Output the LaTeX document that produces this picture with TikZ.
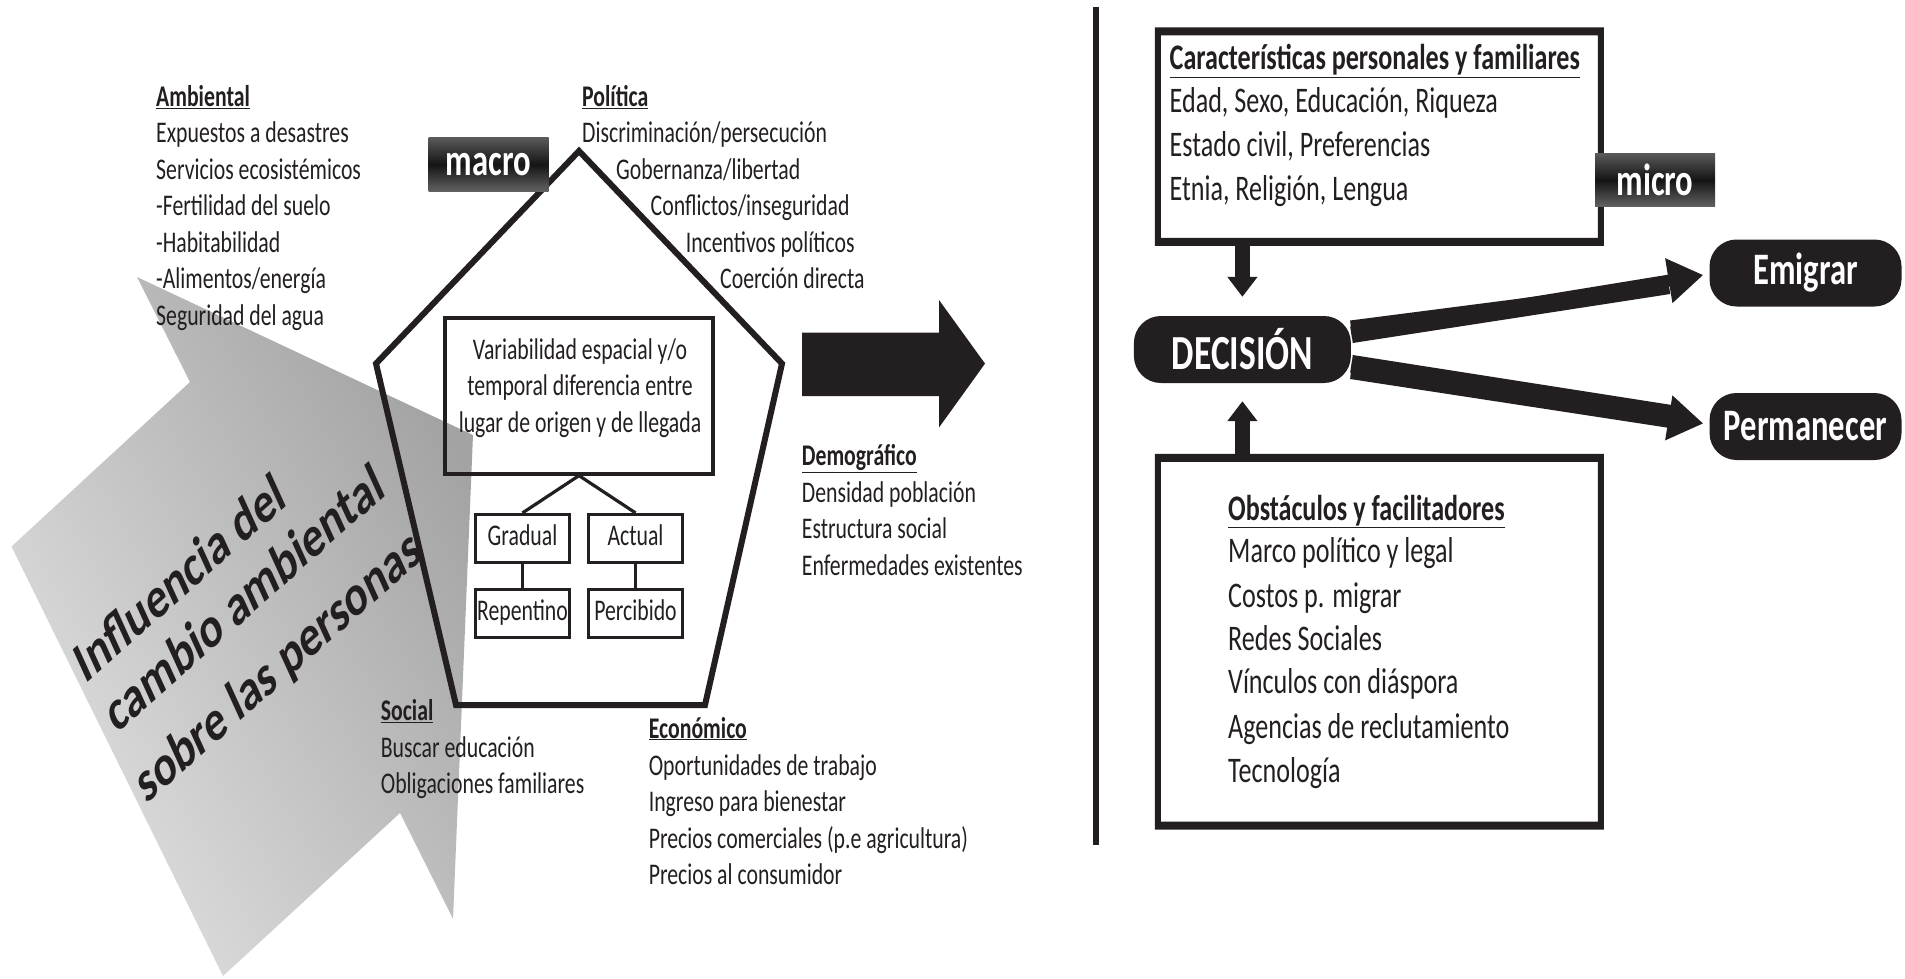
\documentclass[tikz,border=0pt]{standalone}
\usepackage{fontspec}
\setmainfont{Carlito}[FakeStretch=0.725]
\newfontfamily\plainfont{Carlito}
\usetikzlibrary{arrows.meta,calc}
\definecolor{ink}{HTML}{231F20}
\tikzset{
  txt/.style={anchor=base west,yshift=-10pt,inner sep=0pt,font=\fontsize{30}{36.4}\selectfont,text=ink,align=left},
  txtb/.style={txt,yshift=-2pt,font=\fontsize{36}{43.6}\selectfont},
  thinbox/.style={draw=ink,line width=3.2pt,inner sep=0pt},
  smallbox/.style={thinbox,minimum width=94pt,minimum height=48pt,text height=20pt,text depth=7pt,font=\fontsize{30}{30}\selectfont,text=ink},
  heavybox/.style={inner sep=0pt,minimum width=448.7pt},
  pill/.style={rectangle,rounded corners=27pt,fill=ink,inner sep=0pt,text=white,font=\fontsize{45}{47}\selectfont\bfseries},
  tag/.style={inner sep=0pt,minimum width=120pt,minimum height=53pt,top color=black!65,bottom color=black!62,middle color=black!92,text=white,font=\fontsize{45}{47}\selectfont\bfseries},
  bigconn/.style={draw=ink,line width=12pt,-{Triangle[length=35pt,width=43pt]}},
  smallconn/.style={draw=ink,line width=15pt,-{Triangle[length=20pt,width=29pt]}},
  slanted/.style={transform shape,cm={.613,.545,-.386,.846,(0,0)},inner sep=0pt,font=\plainfont\fontsize{59}{64}\selectfont\bfseries,text=ink},
}
\begin{document}
\begin{tikzpicture}[x=1pt,y=-1pt]
\useasboundingbox (0,0) rectangle (1905,979);
% gray arrow
\shade[left color=black!36,right color=black!12,shading angle=-60]
  (137,277) -- (473,435) -- (453,919) -- (400,813) -- (223,976) -- (11.5,546.5) -- (190,382) -- cycle;
% text over arrow
\node[slanted] (infl1) at (179,577) {Influencia del};
\node[slanted] (infl2) at (244,597) {cambio ambiental};
\node[slanted] (infl3) at (279,668) {sobre las personas};
% pentagon
\coordinate (pt) at (579,151);
\coordinate (pr) at (782,363.6);
\coordinate (pbr) at (705,705);
\coordinate (pbl) at (456,705);
\coordinate (pl) at (376,363.6);
\draw[ink,line width=6pt,line join=miter] (pt)--(pr)--(pbr)--(pbl)--(pl)--cycle;
% inner boxes
\node[thinbox,minimum width=268pt,minimum height=156pt] (var) at (579,396) {};
\node[inner sep=0pt,align=center,font=\fontsize{30}{36.4}\selectfont,text=ink] (vartxt) at (580,388) {Variabilidad espacial y/o\\temporal diferencia entre\\lugar de origen y de llegada};
\node[smallbox] (grad) at (522.5,538.5) {Gradual};
\node[smallbox] (act) at (635.5,538.5) {Actual};
\node[smallbox] (rep) at (522.5,613.5) {Repentino};
\node[smallbox] (per) at (635.5,613.5) {Percibido};
\draw[ink,line width=3.2pt] (var.south) -- (grad.north);
\draw[ink,line width=3.2pt] (var.south) -- (act.north);
\draw[ink,line width=3.2pt] (grad) -- (rep);
\draw[ink,line width=3.2pt] (act) -- (per);
% macro
\node[tag] (macro) at (488.5,164.5) {macro};
% texts
\node[txt] (amb) at (156,96.3) {\textbf{\underline{Ambiental}}};
\node[txt] (amb1) at (156,132.7) {Expuestos a desastres};
\node[txt] (amb2) at (156,169.2) {Servicios ecosistémicos};
\node[txt] (amb3) at (156,205.6) {-Fertilidad del suelo};
\node[txt] (amb4) at (156,242) {-Habitabilidad};
\node[txt] (amb5) at (156,278.5) {-Alimentos/energía};
\node[txt] (amb6) at (156,315) {Seguridad del agua};
\node[txt] (pol) at (582,96.3) {\textbf{\underline{Política}}};
\node[txt] (pol1) at (582,132.7) {Discriminación/persecución};
\node[txt] (pol2) at (616,169.2) {Gobernanza/libertad};
\node[txt] (pol3) at (650.5,205.6) {Conflictos/inseguridad};
\node[txt] (pol4) at (685.6,242) {Incentivos políticos};
\node[txt] (pol5) at (720,278.5) {Coerción directa};
\node[txt] (dem) at (801.7,455.7) {\textbf{\underline{Demográfico}}};
\node[txt] (dem1) at (801.7,492) {Densidad población};
\node[txt] (dem2) at (801.7,528.5) {Estructura social};
\node[txt] (dem3) at (801.7,565) {Enfermedades existentes};
\node[txt] (soc) at (380.7,710.6) {\textbf{\underline{Social}}};
\node[txt] (soc1) at (380.7,747) {Buscar educación};
\node[txt] (soc2) at (380.7,783.5) {Obligaciones familiares};
\node[txt] (eco) at (648.6,728) {\textbf{\underline{Económico}}};
\node[txt] (eco1) at (648.6,765) {Oportunidades de trabajo};
\node[txt] (eco2) at (648.6,801.5) {Ingreso para bienestar};
\node[txt] (eco3) at (648.6,838) {Precios comerciales (p.e agricultura)};
\node[txt] (eco4) at (648.6,874.5) {Precios al consumidor};
% big black arrow
\fill[ink] (802,332.6) -- (939,332.6) -- (939,300) -- (985,363.6) -- (939,427.5) -- (939,396) -- (802,396) -- cycle;
% divider
\coordinate (divt) at (1096,7);
\coordinate (divb) at (1096,845);
\draw[ink,line width=6pt] (divt) -- (divb);
% right boxes
\node[heavybox,minimum height=218pt] (top) at (1379.3,136.7) {};
\fill[ink,even odd rule] (top.north west) rectangle (top.south east) ($(top.north west)+(6,8)$) rectangle ($(top.south east)+(-6,-8)$);
\node[txtb] (c0) at (1169.5,58) {\textbf{\underline{Características personales y familiares}}};
\node[txtb] (c1) at (1169.5,100.7) {Edad, Sexo, Educación, Riqueza};
\node[txtb] (c2) at (1169.5,144) {Estado civil, Preferencias};
\node[txtb] (c3) at (1169.5,188) {Etnia, Religión, Lengua};
\node[tag] (micro) at (1655,180) {micro};
\node[pill,minimum width=217pt,minimum height=67pt,font=\fontsize{49}{51}\selectfont\bfseries] (dec) at (1242.4,349.5) {DECISIÓN};
\node[pill,minimum width=192pt,minimum height=67pt] (emi) at (1805.5,273) {Emigrar};
\node[pill,minimum width=192pt,minimum height=67pt] (per2) at (1805.5,426.5) {Permanecer};
\node[heavybox,minimum height=375.3pt] (bot) at (1379.3,641.7) {};
\fill[ink,even odd rule] (bot.north west) rectangle (bot.south east) ($(bot.north west)+(6,8)$) rectangle ($(bot.south east)+(-6,-8)$);
\node[txtb] (o0) at (1228,508) {\textbf{\underline{Obstáculos y facilitadores}}};
\node[txtb] (o1) at (1228,550.7) {Marco político y legal};
\node[txtb] (o2) at (1228,595) {Costos p. migrar};
\node[txtb] (o3) at (1228,638) {Redes Sociales};
\node[txtb] (o4) at (1228,681.7) {Vínculos con diáspora};
\node[txtb] (o5) at (1228,726) {Agencias de reclutamiento};
\node[txtb] (o6) at (1228,770) {Tecnología};
% connectors
\draw[smallconn] (dec.north |- top.south) -- ($(dec.north)+(0,-19)$);
\draw[smallconn] (dec.south |- bot.north) -- ($(dec.south)+(0,18)$);
\fill[ink] ($(dec.east)+(-1,-29)$) -- ($(dec.east)+(1.6,-6.5)$) -- ($(emi.west)+(-39,21)$) -- ($(emi.west)+(-41.5,6.5)$) -- cycle;
\fill[ink] ($(dec.east)+(1.6,5.5)$) -- ($(dec.east)+(-1,29.5)$) -- ($(per2.west)+(-41.5,1.2)$) -- ($(per2.west)+(-37.5,-21.5)$) -- cycle;
\draw[bigconn] ($(dec.east)+(0,-17)$) -- ($(emi.west)+(-6,2)$);
\draw[bigconn] ($(dec.east)+(0,17)$) -- ($(per2.west)+(-6,-3)$);
\end{tikzpicture}
\end{document}
